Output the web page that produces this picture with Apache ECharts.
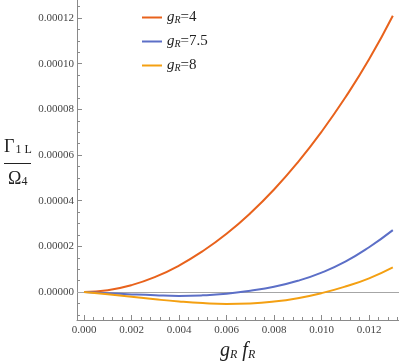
<!DOCTYPE html>
<html>
<head>
<meta charset="utf-8">
<script src="https://cdn.jsdelivr.net/npm/echarts@6/dist/echarts.min.js"></script>
<style>
html,body{margin:0;padding:0;background:#fff;}
#main{width:399px;height:364px;}
</style>
</head>
<body>
<div id="main"></div>
<script>
var xs=[0,0.001,0.002,0.003,0.004,0.005,0.006,0.007,0.008,0.009,0.010,0.011,0.012,0.013];
var g4=[0,0.8e-6,3.0e-6,6.6e-6,11.6e-6,17.9e-6,25.5e-6,34.5e-6,44.9e-6,56.8e-6,70.2e-6,85.2e-6,101.9e-6,121e-6];
var g75=[0,-0.55e-6,-1.05e-6,-1.45e-6,-1.7e-6,-1.45e-6,-0.75e-6,0.55e-6,2.3e-6,4.9e-6,8.5e-6,13.3e-6,19.6e-6,27.1e-6];
var g8=[0,-1.0e-6,-2.1e-6,-3.2e-6,-4.15e-6,-4.85e-6,-5.2e-6,-5.0e-6,-4.2e-6,-2.7e-6,-0.5e-6,2.4e-6,6.0e-6,10.8e-6];
var names=['gR=4','gR=7.5','gR=8'];
var legendText={'gR=4':'4','gR=7.5':'7.5','gR=8':'8'};
var xTicks=[0,0.002,0.004,0.006,0.008,0.010,0.012];
var yTicks=[0,0.00002,0.00004,0.00006,0.00008,0.00010,0.00012];

var xMin=-0.000295,xMax=0.01326,yMin=-0.00001226,yMax=0.0001279;

// minor ticks
var xMinor=[],yMinor=[];
for(var i=1;i<=33;i++){ if(i%5!=0) xMinor.push(+(i*0.0004).toFixed(4)); }
for(var j=-2;j<=25;j++){ if(j%4!=0) yMinor.push(+(j*0.000005).toFixed(6)); }

function pairs(a,b){
  var t=[];
  for(var i=0;i<a.length;i++) t.push([a[i],b[i]]);
  return t;
}

var serif="'Liberation Serif','DejaVu Serif',serif";
var axisColor='#8a8a8a';

var myChart=echarts.init(document.getElementById('main'));
var option={
  animation:false,
  grid:{left:77,right:0,top:0,bottom:44,outerBoundsMode:'none'},
  legend:{
    orient:'vertical',left:137,top:5,itemWidth:20,itemHeight:2,itemGap:9,
    icon:'rect',
    data:names,
    formatter:function(n){ return '{g|g}{s|R}{n|='+legendText[n]+'}'; },
    textStyle:{
      rich:{
        g:{fontFamily:serif,fontStyle:'italic',fontSize:15,color:'#222'},
        s:{fontFamily:serif,fontStyle:'italic',fontSize:10,color:'#222',verticalAlign:'bottom',padding:[4,0,0,0]},
        n:{fontFamily:serif,fontSize:15,color:'#222'}
      }
    }
  },
  xAxis:[{
    type:'value',min:xMin,max:xMax,
    axisLine:{onZero:false,lineStyle:{color:axisColor}},
    splitLine:{show:false},
    axisTick:{inside:true,length:5,lineStyle:{color:axisColor},customValues:xTicks},
    axisLabel:{customValues:xTicks,margin:5,fontFamily:serif,fontSize:11,color:'#444',
      formatter:function(v){return v.toFixed(3);}}
  },{
    type:'value',min:xMin,max:xMax,position:'bottom',
    axisLine:{show:false,onZero:false},splitLine:{show:false},axisLabel:{show:false},
    axisTick:{inside:true,length:3,lineStyle:{color:axisColor},customValues:xMinor}
  }],
  yAxis:[{
    type:'value',min:yMin,max:yMax,
    axisLine:{show:true,onZero:false,lineStyle:{color:axisColor}},
    splitLine:{show:false},
    axisTick:{show:true,inside:true,length:5,lineStyle:{color:axisColor},customValues:yTicks},
    axisLabel:{customValues:yTicks,margin:3,fontFamily:serif,fontSize:11,color:'#444',
      formatter:function(v){return v.toFixed(5);}}
  },{
    type:'value',min:yMin,max:yMax,position:'left',
    axisLine:{show:false,onZero:false},splitLine:{show:false},axisLabel:{show:false},
    axisTick:{show:true,inside:true,length:3,lineStyle:{color:axisColor},customValues:yMinor}
  }],
  series:[{
    name:names[0],type:'line',smooth:true,symbol:'none',
    lineStyle:{width:2,color:'#e8621c'},itemStyle:{color:'#e8621c'},
    data:pairs(xs,g4),
    markLine:{silent:true,symbol:'none',z:1,label:{show:false},
      lineStyle:{color:'#a6a6a6',type:'solid',width:1},data:[{yAxis:0}]}
  },{
    name:names[1],type:'line',smooth:true,symbol:'none',
    lineStyle:{width:2,color:'#5c6fc7'},itemStyle:{color:'#5c6fc7'},
    data:pairs(xs,g75)
  },{
    name:names[2],type:'line',smooth:true,symbol:'none',
    lineStyle:{width:2,color:'#f4a012'},itemStyle:{color:'#f4a012'},
    data:pairs(xs,g8)
  }],
  graphic:[
    {type:'text',left:4,top:138,style:{text:'{G|Γ}{s|1 L}',rich:{
      G:{fontFamily:serif,fontSize:18,fill:'#222'},
      s:{fontFamily:serif,fontSize:12,fill:'#222',verticalAlign:'bottom',padding:[6,0,0,1]}}}},
    {type:'line',shape:{x1:4,y1:163.5,x2:31,y2:163.5},style:{stroke:'#222',lineWidth:1}},
    {type:'text',left:8,top:170,style:{text:'{G|Ω}{s|4}',rich:{
      G:{fontFamily:serif,fontSize:18,fill:'#222'},
      s:{fontFamily:serif,fontSize:12,fill:'#222',verticalAlign:'bottom',padding:[6,0,0,0]}}}},
    {type:'text',left:220,top:341,style:{text:'{i|g}{s|R}{i| f}{s|R}',rich:{
      i:{fontFamily:serif,fontStyle:'italic',fontSize:20,fill:'#222'},
      s:{fontFamily:serif,fontStyle:'italic',fontSize:12,fill:'#222',verticalAlign:'bottom',padding:[6,0,0,0]}}}}
  ]
};
myChart.setOption(option);
</script>
</body>
</html>
